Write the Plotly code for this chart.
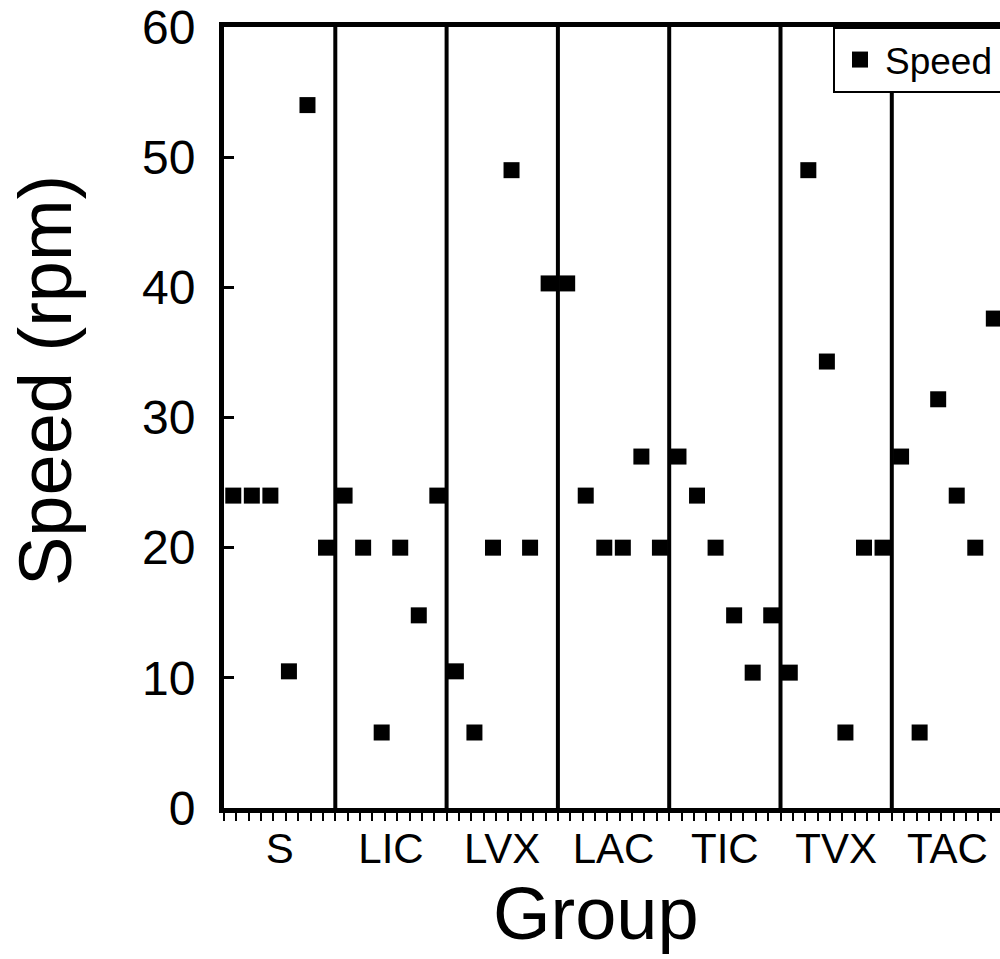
import plotly.graph_objects as go

groups = ["S", "LIC", "LVX", "LAC", "TIC", "TVX", "TAC"]
speed_S = [24, 24, 24, 10.5, 54, 20]
speed_LIC = [24, 20, 5.8, 20, 14.8, 24]
speed_LVX = [10.5, 5.8, 20, 49, 20, 40.3]
speed_LAC = [40.3, 24, 20, 20, 27, 20]
speed_TIC = [27, 24, 20, 14.8, 10.4, 14.8]
speed_TVX = [10.4, 49, 34.3, 5.8, 20, 20]
speed_TAC = [27, 5.8, 31.4, 24, 20, 37.6]
y_ticks = [0, 10, 20, 30, 40, 50, 60]

series = [speed_S, speed_LIC, speed_LVX, speed_LAC, speed_TIC, speed_TVX, speed_TAC]

xs, ys, centers, bounds = [], [], [], []
idx = 0
for vals in series:
    start = idx + 1
    for v in vals:
        idx += 1
        xs.append(idx)
        ys.append(v)
    centers.append((start + idx) / 2)
    bounds.append(idx + 0.5)
bounds = bounds[:-1]

FONT = "Liberation Sans, Arial, Helvetica, sans-serif"

fig = go.Figure()
fig.add_trace(go.Scatter(
    x=xs, y=ys, mode="markers", name="Speed",
    marker=dict(symbol="square", size=16, color="black", line=dict(width=0)),
    showlegend=True,
))

for b in bounds:
    fig.add_shape(type="line", xref="x", yref="y", x0=b, x1=b, y0=0, y1=60,
                  line=dict(color="black", width=4), layer="above")

x_left = 0.5
x_right = 0.5 + 776 / 18.55

fig.update_layout(
    width=1000, height=959,
    margin=dict(l=224, r=0, t=27, b=151, autoexpand=False),
    paper_bgcolor="white", plot_bgcolor="white",
    font=dict(family=FONT, color="black"),
    showlegend=True,
    legend=dict(
        orientation="h",
        x=(833 - 224) / 776, y=1, xanchor="left", yanchor="top",
        bordercolor="black", borderwidth=2, bgcolor="white",
        font=dict(size=37, family=FONT, color="black"),
        itemsizing="trace", itemwidth=40,
        entrywidth=210, entrywidthmode="pixels",
    ),
    xaxis=dict(
        range=[x_left, x_right], showgrid=False, zeroline=False,
        showline=True, linecolor="black", linewidth=5, mirror=True,
        tickmode="array", tickvals=centers, ticktext=groups,
        ticks="", tickfont=dict(size=42, family=FONT, color="black"),
        ticklabelstandoff=0,
        minor=dict(tickmode="linear", tick0=0.5, dtick=2 / 3, ticks="outside",
                   ticklen=8, tickwidth=2, tickcolor="black", showgrid=False),
    ),
    yaxis=dict(
        range=[0, 60], showgrid=False, zeroline=False,
        showline=True, linecolor="black", linewidth=5, mirror=False,
        tickmode="array", tickvals=y_ticks,
        ticks="inside", ticklen=10, tickwidth=3, tickcolor="black",
        tickfont=dict(size=48, family=FONT, color="black"),
        ticklabelstandoff=14,
    ),
    annotations=[
        dict(text="Speed (rpm)", xref="paper", yref="paper",
             x=(45 - 224) / 776, y=(808 - 381) / 781, xanchor="center", yanchor="middle",
             textangle=-90, showarrow=False, font=dict(size=74, family=FONT, color="black")),
        dict(text="Group", xref="paper", yref="paper",
             x=(596 - 224) / 776, y=(808 - 914) / 781, xanchor="center", yanchor="middle",
             showarrow=False, font=dict(size=74, family=FONT, color="black")),
    ],
)

fig.write_html(
    "out.html",
    config={"displayModeBar": False},
    post_script="document.body.style.margin='0';document.body.style.overflow='hidden';",
)
